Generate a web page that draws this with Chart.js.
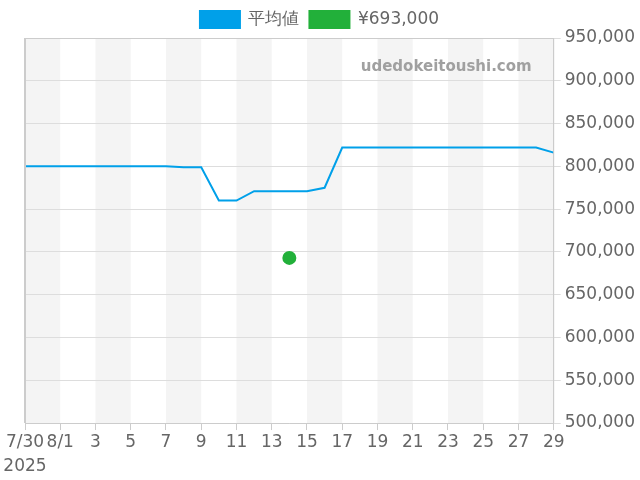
<!DOCTYPE html>
<html>
<head>
<meta charset="utf-8">
<script src="https://cdn.jsdelivr.net/npm/chart.js@4"></script>
<style>
  body { margin: 0; background: #fff; }
  #wrap { width: 640px; height: 480px; }
</style>
</head>
<body>
<div id="wrap"><canvas id="priceChart" width="640" height="480"></canvas></div>
<script>
// dates 7/30 .. 8/29 (2025)
var days = ["7/30", "7/31", "8/1", "8/2", "8/3", "8/4", "8/5", "8/6", "8/7", "8/8",
    "8/9", "8/10", "8/11", "8/12", "8/13", "8/14", "8/15", "8/16", "8/17", "8/18",
    "8/19", "8/20", "8/21", "8/22", "8/23", "8/24", "8/25", "8/26", "8/27", "8/28", "8/29"];

// label shown under each tick ("" = no label)
var tickLabels = [["7/30", "2025"], "", "8/1", "", "3", "", "5", "", "7", "",
    "9", "", "11", "", "13", "", "15", "", "17", "",
    "19", "", "21", "", "23", "", "25", "", "27", "", "29"];

var averagePrice = [800000, 800000, 800000, 800000, 800000, 800000, 800000, 800000, 800000, 799000,
    799000, 760000, 760000, 771000, 771000, 771000, 771000, 775000, 822000, 822000,
    822000, 822000, 822000, 822000, 822000, 822000, 822000, 822000, 822000, 822000, 816000];

var salePrice = [null, null, null, null, null, null, null, null, null, null,
    null, null, null, null, null, 693000, null, null, null, null,
    null, null, null, null, null, null, null, null, null, null, null];

var yTicks = [500000, 550000, 600000, 650000, 700000, 750000, 800000, 850000, 900000, 950000];

Chart.defaults.font.family = "'DejaVu Sans', sans-serif";
Chart.defaults.font.size = 17;
Chart.defaults.color = "#666";

// grey bands every other 2-day block, frame and watermark
var bandPlugin = {
    id: "bands",
    beforeDraw: function (chart) {
        var ctx = chart.ctx;
        var area = chart.chartArea;
        var x = chart.scales.x;
        ctx.save();
        ctx.fillStyle = "#f4f4f4";
        for (var i = 0; i + 2 < days.length; i += 4) {
            var x0 = x.getPixelForValue(i);
            var x1 = x.getPixelForValue(i + 2);
            ctx.fillRect(x0, area.top, x1 - x0, area.bottom - area.top);
        }
        ctx.restore();
    },
    beforeDatasetsDraw: function (chart) {
        var ctx = chart.ctx;
        var area = chart.chartArea;
        ctx.save();
        ctx.font = "bold 15px 'DejaVu Sans', sans-serif";
        ctx.fillStyle = "#a0a0a0";
        ctx.textAlign = "right";
        ctx.textBaseline = "middle";
        ctx.fillText("udedokeitoushi.com", area.right - 22, area.top + 29);
        ctx.restore();
    },
    afterDraw: function (chart) {
        var ctx = chart.ctx;
        var area = chart.chartArea;
        ctx.save();
        ctx.strokeStyle = "#cccccc";
        ctx.lineWidth = 1;
        ctx.beginPath();
        ctx.moveTo(area.left, area.top + 0.5);
        ctx.lineTo(area.right, area.top + 0.5);
        ctx.lineTo(area.right, area.bottom);
        ctx.stroke();
        ctx.lineWidth = 2;
        ctx.beginPath();
        ctx.moveTo(area.left, area.top);
        ctx.lineTo(area.left, area.bottom);
        ctx.stroke();
        ctx.restore();
    }
};

var chart = new Chart(document.getElementById("priceChart").getContext("2d"), {
    type: "line",
    data: {
        labels: days,
        datasets: [
            {
                label: "平均値",
                data: averagePrice,
                borderColor: "#00a0e9",
                backgroundColor: "#00a0e9",
                borderWidth: 2,
                pointRadius: 0,
                tension: 0
            },
            {
                label: "¥693,000",
                data: salePrice,
                borderColor: "#22b03a",
                backgroundColor: "#22b03a",
                borderWidth: 2,
                showLine: false,
                pointRadius: 6
            }
        ]
    },
    plugins: [bandPlugin],
    options: {
        responsive: false,
        animation: false,
        devicePixelRatio: 1,
        layout: {
            padding: { left: 0, right: 1, top: 1 }
        },
        plugins: {
            legend: {
                labels: { boxWidth: 40, color: "#666" }
            },
            tooltip: { enabled: false }
        },
        scales: {
            x: {
                afterFit: function (axis) {
                    axis.paddingLeft = 25;
                },
                grid: {
                    drawOnChartArea: false,
                    tickLength: 7,
                    color: "#cccccc",
                    tickColor: function (c) {
                        return c.index % 2 === 0 ? "#cccccc" : "rgba(0,0,0,0)";
                    }
                },
                border: { color: "#cccccc" },
                ticks: {
                    autoSkip: false,
                    maxRotation: 0,
                    padding: 1,
                    font: { lineHeight: 1.41 },
                    callback: function (value, index) {
                        return tickLabels[index];
                    }
                }
            },
            y: {
                position: "right",
                min: 500000,
                max: 950000,
                afterBuildTicks: function (axis) {
                    axis.ticks = yTicks.map(function (v) { return { value: v }; });
                },
                grid: { color: "#dddddd", tickLength: 7 },
                border: { color: "#cccccc" },
                ticks: {
                    padding: 4,
                    callback: function (value) {
                        return value.toLocaleString("en-US");
                    }
                }
            }
        }
    }
});
</script>
</body>
</html>
